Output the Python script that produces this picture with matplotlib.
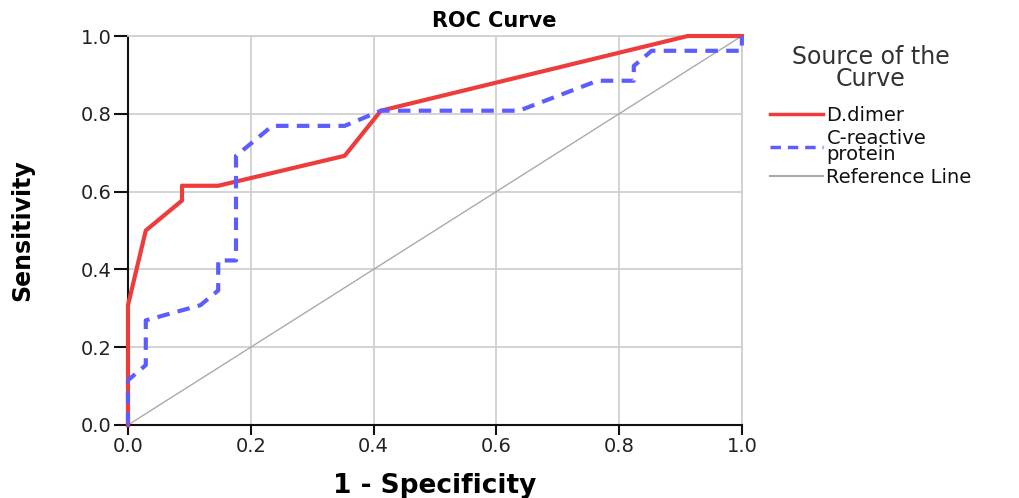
import matplotlib
matplotlib.use("Agg")

import matplotlib.pyplot as plt

# ROC points (1 - specificity, sensitivity)
ddimer_fpr = [0.0, 0.0, 0.029, 0.088, 0.088, 0.147, 0.353, 0.412, 0.912, 1.0]
ddimer_tpr = [0.0, 0.308, 0.500, 0.577, 0.615, 0.615, 0.692, 0.808, 1.0, 1.0]

crp_fpr = [0.0, 0.0, 0.029, 0.029, 0.118, 0.147, 0.147, 0.176, 0.176, 0.206,
           0.235, 0.353, 0.412, 0.637, 0.765, 0.824, 0.824, 0.853, 1.0, 1.0]
crp_tpr = [0.0, 0.115, 0.154, 0.269, 0.308, 0.346, 0.423, 0.423, 0.692, 0.731,
           0.769, 0.769, 0.808, 0.808, 0.885, 0.885, 0.923, 0.962, 0.962, 1.0]

ref_x = [0.0, 1.0]
ref_y = [0.0, 1.0]

ticks = [0.0, 0.2, 0.4, 0.6, 0.8, 1.0]


def main():
    plt.rcParams['font.family'] = ['DejaVu Sans']

    fig = plt.figure(figsize=(10.19, 4.98), dpi=100)
    ax = fig.add_axes([0.1256, 0.1466, 0.6024, 0.7811])

    ax.plot(ref_x, ref_y, color='#aaaaaa', linewidth=1.0, label='Reference Line', zorder=2)
    ax.plot(ddimer_fpr, ddimer_tpr, color='#ee3b3b', linewidth=3, label='D.dimer',
            clip_on=False, zorder=3)
    ax.plot(crp_fpr, crp_tpr, color='#5c5cff', linewidth=3, linestyle=(0, (3, 2)),
            label='C-reactive\nprotein', clip_on=False, zorder=4)

    ax.set_xlim(0, 1)
    ax.set_ylim(0, 1)
    ax.set_xticks(ticks)
    ax.set_yticks(ticks)
    ax.set_xticklabels([f"{t:.1f}" for t in ticks])
    ax.set_yticklabels([f"{t:.1f}" for t in ticks])
    ax.grid(True, color='#d0d0d0', linewidth=1.3)
    ax.set_axisbelow(True)

    for side in ['top', 'right']:
        ax.spines[side].set_color('#d0d0d0')
        ax.spines[side].set_linewidth(1.3)
    for side in ['left', 'bottom']:
        ax.spines[side].set_color('#111111')
        ax.spines[side].set_linewidth(1.5)

    ax.tick_params(axis='both', direction='out', width=1.5,
                   color='#111111', labelsize=14, labelcolor='#222222', pad=2)
    ax.tick_params(axis='x', length=7)
    ax.tick_params(axis='y', length=10)

    ax.set_xlabel("1 - Specificity", fontsize=19, fontweight='bold', labelpad=12)
    ax.set_ylabel("Sensitivity", fontsize=17, fontweight='bold')
    ax.yaxis.set_label_coords(-0.152, 0.5)
    fig.text(0.485, 0.958, "ROC Curve", fontsize=15, fontweight='bold',
             ha='center', va='center')

    handles, labels = ax.get_legend_handles_labels()
    order = [1, 2, 0]
    leg = ax.legend([handles[i] for i in order], [labels[i] for i in order],
                    loc='upper left', bbox_to_anchor=(0.7557, 0.91),
                    bbox_transform=fig.transFigure, frameon=False,
                    title="Source of the\nCurve", fontsize=14,
                    handlelength=2.7, handletextpad=0.2, labelspacing=0.2,
                    borderpad=0, borderaxespad=0)
    leg.get_title().set_fontsize(17)
    leg.get_title().set_color('#333333')
    leg.get_title().set_linespacing(0.9)
    leg.get_title().set_multialignment('center')
    for txt in leg.get_texts():
        txt.set_linespacing(0.8)
        txt.set_color('#111111')
    # extra room between the legend title and the entries
    leg._legend_box.sep = 11
    widths = [2.5, 2.5, 1.5]
    for h, w in zip(leg.legend_handles, widths):
        h.set_linewidth(w)

    fig.savefig("out.png", dpi=100)


if __name__ == "__main__":
    main()
